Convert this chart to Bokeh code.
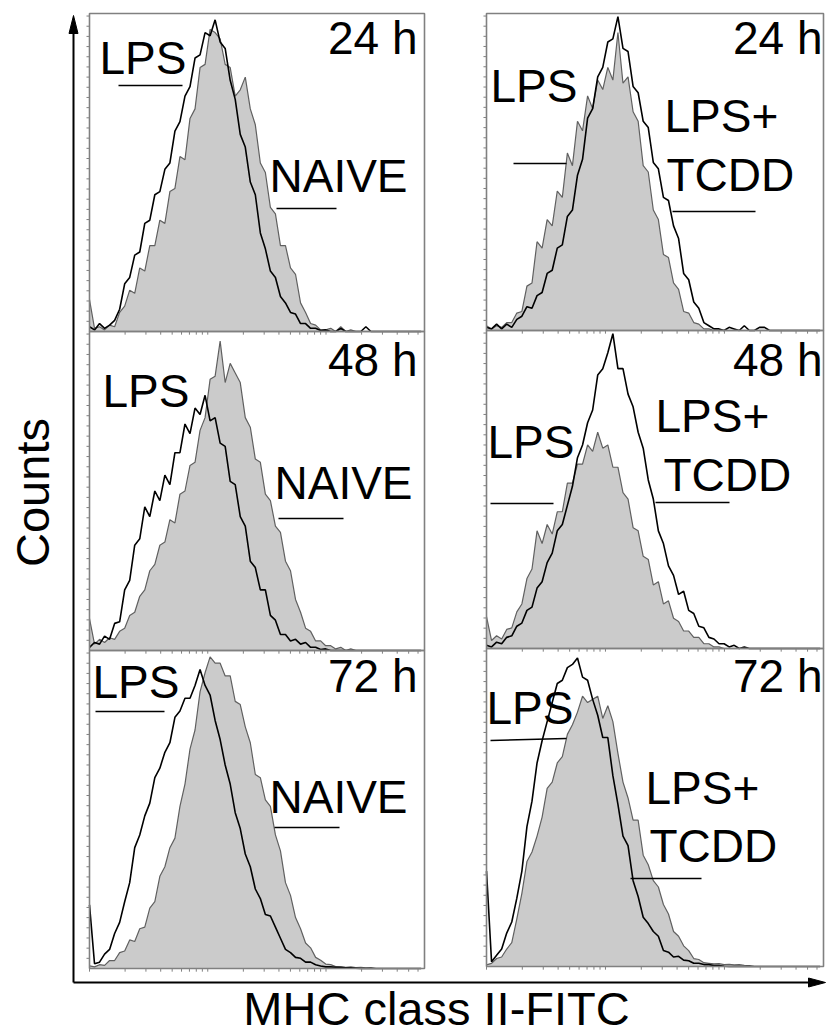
import math
from bokeh.plotting import figure
from bokeh.models import Range1d, ColumnDataSource
from bokeh.core.properties import value
from bokeh.embed import file_html
from bokeh.resources import INLINE

# ---------------- data ----------------
# histogram bin centres, % of the (log) MHC class II-FITC axis
channel = [round(1.5 * i, 2) for i in range(67)]

# counts, % of panel height; values past the listed bins are zero
# left column: black line = LPS, grey filled = NAIVE
lps_24 = [1.5, 0.5, 2.5, 1, 2, 3.5, 7, 15, 17, 24,
          25, 34, 35, 43, 44, 51, 53, 63, 66, 74,
          77, 86, 87, 94, 93, 98, 91, 89, 79, 73,
          62, 58, 47, 43, 31, 26, 19, 17, 11, 9,
          6, 5.5, 2.5, 2.5, 1, 1, 0.3, 0.5, 0, 0,
          1, 0, 0, 0, 0, 1.5]
naive_24 = [10, 1, 1.5, 0.5, 2, 1.5, 6, 8, 13, 12,
            20, 19, 27, 27, 35, 34, 44, 45, 55, 54,
            67, 70, 83, 84, 95, 94, 92, 84, 83, 74,
            76, 80, 70, 65, 53, 50, 39, 37, 27, 27,
            20, 18, 9, 6, 2.5, 2, 0.5, 0.5, 1, 0,
            1.5, 0, 0.5]
lps_48 = [1, 2.5, 2, 4.5, 3.5, 8.5, 9, 19, 22, 33,
          35, 45, 42, 50, 47, 55, 52, 62, 62, 71,
          68, 76, 74, 80, 72, 73, 65, 64, 53, 52,
          42, 39, 28, 26, 19, 19, 11, 9.5, 5, 5,
          3, 3.5, 2, 2.5, 1, 1, 0.3, 0.5]
naive_48 = [10, 2, 3.5, 2.5, 4, 3.5, 6, 7, 11, 12,
            17, 19, 25, 27, 33, 34, 41, 40, 49, 50,
            58, 59, 69, 73, 85, 86, 97, 84, 90, 87,
            84, 73, 70, 60, 59, 49, 47, 39, 37, 28,
            25, 16, 12, 7, 6, 3, 3, 1.5, 1.5, 0.5,
            1, 0, 0.5]
lps_72 = [20, 1.5, 2, 4.5, 6, 11, 14.5, 21, 27, 38,
          42, 48, 52, 60, 63, 68, 71, 79, 81, 85,
          85, 89, 94, 89, 86, 78, 72, 64, 58, 49,
          44, 36, 32, 25, 22, 17, 16.5, 13, 9.5, 6,
          5, 3.5, 3.2, 2, 2, 1.2, 0.8, 0.5, 0.5, 0.4,
          0.3, 0.2, 0.2, 0.1]
naive_72 = [0.8, 0.5, 1.2, 1, 2.5, 2.5, 5, 5.5, 9, 8.5,
            12.5, 13, 19, 21, 29, 32, 38, 41, 51, 58,
            69, 75, 87, 93, 98, 96, 96, 92, 92, 84,
            83, 76, 71, 61, 60, 53, 51, 42, 37, 27,
            23, 16, 12.5, 8, 6.5, 3.5, 2.6, 1.4, 1.2, 0.6,
            0.6, 0.4, 0.5, 0.3, 0.4, 0.2, 0.3]

# right column: black line = LPS+TCDD, grey filled = LPS
tcdd_24 = [1, 0.5, 2, 0.5, 2, 1, 3.5, 4.5, 7.5, 7,
           11, 12, 18, 19, 26, 27, 36, 38, 49, 54,
           67, 70, 80, 83, 91, 92, 99, 89, 88, 77,
           75, 66, 64, 53, 51, 42, 41, 33, 29, 18,
           16, 9, 7, 2.5, 1.5, 0.5, 0.5, 0, 1, 0.5,
           0, 1.5, 0, 0, 1, 1]
lpsr_24 = [1.5, 0.5, 1.5, 1, 2.5, 2.5, 5.5, 6, 14, 15,
           28, 26, 35, 33, 44, 42, 56, 52, 66, 63,
           74, 70, 79, 76, 83, 79, 94, 78, 80, 69,
           66, 52, 50, 38, 35, 24, 23, 15, 13, 6,
           5.5, 2.5, 2, 0.5, 0.5]
tcdd_48 = [1, 0.5, 2, 1.5, 3.5, 4, 7, 8, 12, 13,
           19, 21, 27, 30, 37, 39, 45, 51, 60, 64,
           71, 75, 86, 88, 93, 99, 88, 88, 80, 76,
           68, 63, 53, 47, 37, 33, 26, 23, 17, 18,
           12, 11, 7, 6.5, 3.5, 3, 1.5, 1.5, 0.5, 1,
           0, 0.5]
lpsr_48 = [10, 2.5, 4, 3, 6, 6.5, 11.5, 14, 22, 25,
           37, 33, 39, 36, 43, 43, 52, 52, 58, 58,
           64, 62, 68, 63, 64, 57, 57, 49, 47, 38,
           37, 29, 28, 20, 21, 14, 15, 9.5, 8.5, 5.5,
           5.5, 3.5, 3.5, 1.5, 1.5, 0.5, 0.5]
tcdd_72 = [30, 1.5, 3.5, 5.5, 10.5, 14, 21.5, 30, 44, 52,
           64, 71, 77, 83, 89, 90, 94, 95, 97, 91,
           90, 84, 79, 72, 72, 60, 51, 41, 38, 27,
           22, 15.5, 13.5, 11, 9.5, 5, 4.5, 3, 3.2, 2,
           1.8, 1, 1, 0.6, 0.6, 0.3, 0.3, 0.1]
lpsr_72 = [0.5, 1, 2.5, 3, 5.5, 7.5, 15, 23, 33, 36,
           41, 47, 56, 58, 64, 66, 73, 76, 80, 85,
           83, 84, 85, 78, 82, 77, 67, 58, 53, 46,
           46, 35, 32, 27, 25, 19.5, 16.5, 11, 9.5, 6.5,
           5, 2.5, 2.2, 1.2, 1, 0.8, 0.9, 0.6, 0.7, 0.5,
           0.6, 0.4, 0.3]

time_labels = ["24 h", "48 h", "72 h"]
x_title = "MHC class II-FITC"
y_title = "Counts"


def pad(v):
    return list(v) + [0] * (len(channel) - len(v))


# ---------------- layout ----------------
FONT = value("Liberation Sans")
FILL = "#cbcbcb"
GREY_LINE = "#606060"
FRAME = "#808080"
DY = -18  # baseline correction for the svg text placement

p = figure(width=828, height=1036, x_range=Range1d(0, 828), y_range=Range1d(1036, 0),
           output_backend="svg", toolbar_location=None, min_border=0,
           x_axis_location=None, y_axis_location=None)
p.xgrid.visible = False
p.ygrid.visible = False
p.outline_line_color = None
p.background_fill_color = "white"

# panel rectangles in page pixels: (left, right, top, bottom)
panels = [
    ((89, 424, 13, 331), naive_24, lps_24),
    ((89, 424, 331, 650), naive_48, lps_48),
    ((89, 424, 650, 968), naive_72, lps_72),
    ((486, 823, 13, 330), lpsr_24, tcdd_24),
    ((486, 823, 330, 648), lpsr_48, tcdd_48),
    ((486, 823, 648, 966), lpsr_72, tcdd_72),
]

left_ticks = [3.2 * k for k in range(1, 32)]
decade = 35.3
bottom_ticks = [d * decade + decade * math.log10(m) for d in range(3) for m in range(1, 10)]
bottom_ticks = [t for t in bottom_ticks if t <= 100]

for (x0, x1, yt, yb), filled, line in panels:
    sp = p.subplot(x_source=Range1d(0, 100), y_source=Range1d(0, 100),
                   x_target=Range1d(x0, x1), y_target=Range1d(yb, yt))
    src = ColumnDataSource(dict(ch=channel, filled=pad(filled), line=pad(line)))
    sp.varea(x="ch", y1=0, y2="filled", source=src, fill_color=FILL)
    sp.line("ch", "filled", source=src, line_color=GREY_LINE, line_width=1.2)
    sp.line("ch", "line", source=src, line_color="#000000", line_width=1.6)
    sp.quad(left=[0], right=[100], bottom=[0], top=[100], fill_color=None,
            line_color=FRAME, line_width=1.6)
    sp.segment(x0=[-0.9] * len(left_ticks), x1=[0] * len(left_ticks),
               y0=left_ticks, y1=left_ticks, line_color=FRAME, line_width=1)
    sp.segment(x0=bottom_ticks, x1=bottom_ticks, y0=[0] * len(bottom_ticks),
               y1=[-1] * len(bottom_ticks), line_color=FRAME, line_width=1)

# time labels (right aligned at the top right of each panel)
p.text(x=[417, 417, 417, 822, 822, 822],
       y=[v + DY for v in [55, 377, 693, 55, 377, 693]],
       text=time_labels * 2, text_font=FONT, text_font_size="46px",
       text_align="right", text_baseline="alphabetic", text_color="black")

# group labels
lab_text = ["LPS", "NAIVE", "LPS", "NAIVE", "LPS", "NAIVE",
            "LPS", "LPS+", "TCDD", "LPS", "LPS+", "TCDD", "LPS", "LPS+", "TCDD"]
lab_x = [99, 269, 102, 274, 92, 269,
         490, 664, 666, 487, 655, 663, 486, 645, 649]
lab_y = [75, 193, 408, 500, 699, 814,
         103, 133, 192, 459, 433, 492, 725, 805, 863]
p.text(x=lab_x, y=[v + DY for v in lab_y], text=lab_text, text_font=FONT,
       text_font_size="46px", text_align="left", text_baseline="alphabetic",
       text_color="black")

# pointer lines under the labels
p.segment(x0=[118, 276, 278, 95, 274, 513, 672, 490, 655, 490, 630],
          x1=[182, 336, 343, 164, 339, 566, 755, 553, 729, 566, 701],
          y0=[85, 208, 518, 711, 827, 163, 211, 503, 502, 740, 878],
          y1=[85, 208, 518, 711, 827, 163, 211, 503, 502, 738, 878],
          line_color="black", line_width=1.5)

# axis arrows
p.segment(x0=[73, 73], y0=[982, 982], x1=[73, 810], y1=[30, 982],
          line_color="black", line_width=2)
p.patches(xs=[[68.5, 73, 77.5], [808, 825, 808]],
          ys=[[33, 15, 33], [977.5, 982, 986.5]],
          fill_color="black", line_color="black", line_width=1)

# axis titles
p.text(x=[436], y=[1026 + DY], text=[x_title], text_font=FONT, text_font_size="47px",
       text_align="center", text_baseline="alphabetic", text_color="black")
p.text(x=[50 + DY], y=[492], text=[y_title], text_font=FONT, text_font_size="47px",
       text_align="center", text_baseline="alphabetic", text_color="black",
       angle=math.pi / 2)

open("out.html", "w").write(file_html(p, INLINE))
